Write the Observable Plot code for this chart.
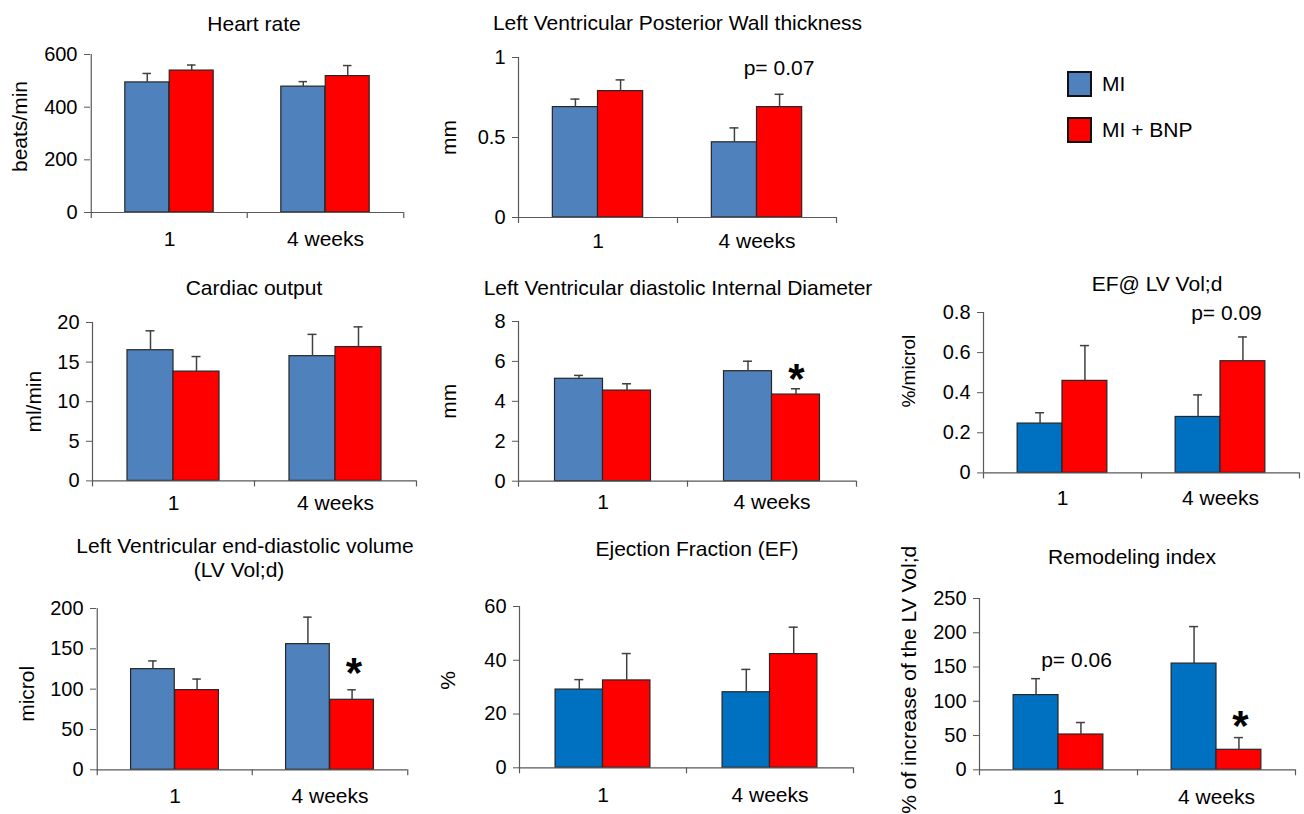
<!DOCTYPE html>
<html>
<head>
<meta charset="utf-8">
<script src="https://cdn.jsdelivr.net/npm/d3@7"></script>
<script src="https://cdn.jsdelivr.net/npm/@observablehq/plot@0.6"></script>
<style>
html, body { margin: 0; padding: 0; background: #fff; overflow: hidden; }
#root { position: relative; width: 1304px; height: 814px; overflow: hidden; background: #fff;
  font-family: "Liberation Sans", Arial, Helvetica, sans-serif; color: #000; }
.panel { position: absolute; }
.title { position: absolute; white-space: nowrap; font-size: 21px; line-height: 24px; transform: translateX(-50%); }
.legbox { position: absolute; width: 21px; height: 22px; border: 2px solid #111; }
.leglabel { position: absolute; white-space: nowrap; font-size: 21px; line-height: 24px; }
</style>
</head>
<body>
<div id="root"></div>
<script>
// ---------- data ----------
const weeks = ["1", "4 weeks"];
const groups = ["MI", "MI + BNP"];

const heartRateMI = [494, 478];
const heartRateMISem = [34, 19];
const heartRateBNP = [539, 518];
const heartRateBNPSem = [21, 40];
const heartRateTicks = [0, 200, 400, 600];

const lvpwMI = [0.69, 0.47];
const lvpwMISem = [0.05, 0.09];
const lvpwBNP = [0.79, 0.69];
const lvpwBNPSem = [0.07, 0.08];
const lvpwTicks = [0, 0.5, 1];

const cardiacMI = [16.5, 15.75];
const cardiacMISem = [2.45, 2.75];
const cardiacBNP = [13.8, 16.9];
const cardiacBNPSem = [1.9, 2.55];
const cardiacTicks = [0, 5, 10, 15, 20];

const lvidMI = [5.13, 5.51];
const lvidMISem = [0.17, 0.5];
const lvidBNP = [4.54, 4.34];
const lvidBNPSem = [0.34, 0.29];
const lvidTicks = [0, 2, 4, 6, 8];

const efVolMI = [0.246, 0.279];
const efVolMISem = [0.054, 0.11];
const efVolBNP = [0.459, 0.557];
const efVolBNPSem = [0.176, 0.121];
const efVolTicks = [0, 0.2, 0.4, 0.6, 0.8];

const lvedvMI = [124.8, 155.8];
const lvedvMISem = [10.2, 33.5];
const lvedvBNP = [98.8, 86.8];
const lvedvBNPSem = [13.7, 12.4];
const lvedvTicks = [0, 50, 100, 150, 200];

const efMI = [29.1, 28.1];
const efMISem = [3.7, 8.5];
const efBNP = [32.5, 42.3];
const efBNPSem = [10, 10];
const efTicks = [0, 20, 40, 60];

const remodMI = [109, 155];
const remodMISem = [24, 54];
const remodBNP = [51.5, 29.2];
const remodBNPSem = [17.5, 17.8];
const remodTicks = [0, 50, 100, 150, 200, 250];

const blueA = "#4F81BD";
const blueB = "#0070C0";
const red = "#FF0000";
const axisColor = "#595959";
const errColor = "#404040";
const barStroke = "#262626";

const root = document.getElementById("root");

function panel(s) {
  const mL = 110, mR = 20, mT = 60, mB = 45;
  const fw = s.ex - s.ax, fh = s.y0 - s.yTop;
  const W = fw + mL + mR, H = fh + mT + mB;
  const bw = fw / 2;
  const barW = bw * 0.284, off = (bw - 2 * barW) / 2, cap = 4.5;
  const rows = (vals, sems, g) => weeks.map((w, i) => ({week: w, group: g, value: vals[i], top: vals[i] + sems[i]}));
  const mi = rows(s.mi, s.miSem, groups[0]);
  const bnp = rows(s.bnp, s.bnpSem, groups[1]);
  const series = {mi, bnp};
  const cMI = off + barW / 2, cB = off + 1.5 * barW;
  const ymax = s.ticks[s.ticks.length - 1];

  const marks = [
    Plot.barY(mi, {x: "week", y: "value", fill: s.blue, stroke: barStroke, strokeWidth: 1.2,
      insetLeft: off, insetRight: bw - off - barW}),
    Plot.barY(bnp, {x: "week", y: "value", fill: red, stroke: barStroke, strokeWidth: 1.2,
      insetLeft: off + barW, insetRight: off}),
    Plot.ruleX(mi, {x: "week", y1: "value", y2: "top", dx: cMI - bw / 2, stroke: errColor, strokeWidth: 1.5}),
    Plot.tickY(mi, {x: "week", y: "top", insetLeft: cMI - cap, insetRight: bw - cMI - cap, stroke: errColor, strokeWidth: 1.5}),
    Plot.ruleX(bnp, {x: "week", y1: "value", y2: "top", dx: cB - bw / 2, stroke: errColor, strokeWidth: 1.5}),
    Plot.tickY(bnp, {x: "week", y: "top", insetLeft: cB - cap, insetRight: bw - cB - cap, stroke: errColor, strokeWidth: 1.5}),
    Plot.ruleY([0], {stroke: axisColor, strokeWidth: 1.2}),
    Plot.ruleX([weeks[0]], {y1: ymax, y2: 0, dx: -bw / 2, insetBottom: -6, stroke: axisColor, strokeWidth: 1.2}),
    Plot.ruleX([weeks[1]], {y1: 0, y2: 0, dx: -bw / 2, insetBottom: -6, stroke: axisColor, strokeWidth: 1.2}),
    Plot.ruleX([weeks[1]], {y1: 0, y2: 0, dx: bw / 2, insetBottom: -6, stroke: axisColor, strokeWidth: 1.2}),
    Plot.axisY(s.ticks, {anchor: "left", tickSize: 6, tickPadding: 7, fontSize: 20, tickFormat: (d) => String(d),
      stroke: axisColor, label: null}),
    Plot.axisX({tickSize: 0, tickPadding: s.xpad, fontSize: 21, label: null})
  ];

  // y label
  if (s.ylabelTop) {
    marks.push(Plot.text([s.ylabel], {frameAnchor: "top-left", text: (d) => d, rotate: -90, textAnchor: "end",
      lineAnchor: "middle", dx: s.ylDx, dy: s.ylDy, fontSize: s.ylSize || 21, fill: "#000"}));
  } else {
    marks.push(Plot.text([s.ylabel], {frameAnchor: "left", text: (d) => d, rotate: -90, textAnchor: "middle",
      lineAnchor: "middle", dx: s.ylDx, dy: s.ylDy, fontSize: s.ylSize || 21, fill: "#000"}));
  }

  // annotations
  for (const n of s.notes || []) {
    const row = series[n.series][n.index];
    if (n.kind === "star") {
      marks.push(Plot.text([row], {x: "week", y: "top", text: () => n.text, dx: n.dx, dy: n.dy,
        fontSize: 42, fontWeight: "bold", lineAnchor: "middle", fill: "#000"}));
    } else {
      marks.push(Plot.text([row], {x: "week", y: "top", text: () => n.text, dx: n.dx, dy: n.dy,
        fontSize: 21, lineAnchor: "bottom", fill: "#000"}));
    }
  }

  const chart = Plot.plot({
    width: W, height: H,
    marginLeft: mL, marginRight: mR, marginTop: mT, marginBottom: mB,
    style: {background: "transparent", overflow: "visible", maxWidth: "none",
      fontFamily: '"Liberation Sans", Arial, sans-serif', fontSize: "20px", color: "#000"},
    x: {type: "band", domain: weeks, padding: 0},
    y: {domain: [0, ymax]},
    marks
  });
  const div = document.createElement("div");
  div.className = "panel";
  div.style.left = (s.ax - mL) + "px";
  div.style.top = (s.yTop - mT) + "px";
  div.style.width = W + "px";
  div.style.height = H + "px";
  div.appendChild(chart);
  root.appendChild(div);

  for (const t of s.titles) {
    const d = document.createElement("div");
    d.className = "title";
    d.textContent = t.text;
    d.style.left = t.x + "px";
    d.style.top = (t.y - 11.8) + "px";
    root.appendChild(d);
  }
}

panel({ax: 90, ex: 403, yTop: 54, y0: 212, ticks: heartRateTicks, blue: blueA,
  mi: heartRateMI, miSem: heartRateMISem, bnp: heartRateBNP, bnpSem: heartRateBNPSem,
  titles: [{text: "Heart rate", x: 254, y: 23.5}], ylabel: "beats/min", ylDx: -70.5, ylDy: -7, xpad: 19});

panel({ax: 518, ex: 836, yTop: 57.3, y0: 217.3, ticks: lvpwTicks, blue: blueA,
  mi: lvpwMI, miSem: lvpwMISem, bnp: lvpwBNP, bnpSem: lvpwBNPSem,
  titles: [{text: "Left Ventricular Posterior Wall thickness", x: 677.5, y: 22.5}], ylabel: "mm", ylDx: -69, ylDy: 0, xpad: 16,
  notes: [{series: "bnp", index: 1, text: "p= 0.07", kind: "p", dx: 22, dy: -19}]});

panel({ax: 92, ex: 416, yTop: 322.3, y0: 480.7, ticks: cardiacTicks, blue: blueA,
  mi: cardiacMI, miSem: cardiacMISem, bnp: cardiacBNP, bnpSem: cardiacBNPSem,
  titles: [{text: "Cardiac output", x: 254, y: 287.5}], ylabel: "ml/min", ylDx: -58, ylDy: 0, xpad: 14.3});

panel({ax: 518, ex: 856, yTop: 321, y0: 480.7, ticks: lvidTicks, blue: blueA,
  mi: lvidMI, miSem: lvidMISem, bnp: lvidBNP, bnpSem: lvidBNPSem,
  titles: [{text: "Left Ventricular diastolic Internal Diameter", x: 678, y: 288}], ylabel: "mm", ylDx: -69.5, ylDy: 0, xpad: 12.7,
  notes: [{series: "bnp", index: 1, text: "*", kind: "star", dx: 24.5, dy: -9}]});

panel({ax: 983, ex: 1299, yTop: 312.3, y0: 472.7, ticks: efVolTicks, blue: blueB,
  mi: efVolMI, miSem: efVolMISem, bnp: efVolBNP, bnpSem: efVolBNPSem,
  titles: [{text: "EF@ LV Vol;d", x: 1157, y: 283.3}], ylabel: "%/microl", ylDx: -75, ylDy: -21.5, ylSize: 19, xpad: 17.3,
  notes: [{series: "bnp", index: 1, text: "p= 0.09", kind: "p", dx: 6, dy: -16.8}]});

panel({ax: 96, ex: 407, yTop: 607.7, y0: 769, ticks: lvedvTicks, blue: blueA,
  mi: lvedvMI, miSem: lvedvMISem, bnp: lvedvBNP, bnpSem: lvedvBNPSem,
  titles: [{text: "Left Ventricular end-diastolic volume", x: 245, y: 545.5}, {text: "(LV Vol;d)", x: 239, y: 570}],
  ylabel: "microl", ylDx: -69, ylDy: 4.7, xpad: 18,
  notes: [{series: "bnp", index: 1, text: "*", kind: "star", dx: 24, dy: -16.7}]});

panel({ax: 519, ex: 853, yTop: 606, y0: 767.3, ticks: efTicks, blue: blueB,
  mi: efMI, miSem: efMISem, bnp: efBNP, bnpSem: efBNPSem,
  titles: [{text: "Ejection Fraction (EF)", x: 697, y: 548.3}], ylabel: "%", ylDx: -71.5, ylDy: -6.7, xpad: 19.7});

panel({ax: 979, ex: 1295, yTop: 597.7, y0: 769, ticks: remodTicks, blue: blueB,
  mi: remodMI, miSem: remodMISem, bnp: remodBNP, bnpSem: remodBNPSem,
  titles: [{text: "Remodeling index", x: 1132, y: 556.7}], ylabel: "% of increase of the LV Vol;d", ylabelTop: true,
  ylDx: -70.5, ylDy: -52.7, ylSize: 21, xpad: 19,
  notes: [{series: "mi", index: 0, text: "p= 0.06", kind: "p", dx: 18, dy: -11.2},
          {series: "bnp", index: 1, text: "*", kind: "star", dx: 24, dy: -10.8}]});

// legend
const legend = [{label: groups[0], color: blueA, y: 71}, {label: groups[1], color: red, y: 117}];
for (const l of legend) {
  const b = document.createElement("div");
  b.className = "legbox";
  b.style.left = "1067px";
  b.style.top = l.y + "px";
  b.style.background = l.color;
  root.appendChild(b);
  const t = document.createElement("div");
  t.className = "leglabel";
  t.textContent = l.label;
  t.style.left = "1102px";
  t.style.top = (l.y + 13 - 11.8) + "px";
  root.appendChild(t);
}
</script>
</body>
</html>
